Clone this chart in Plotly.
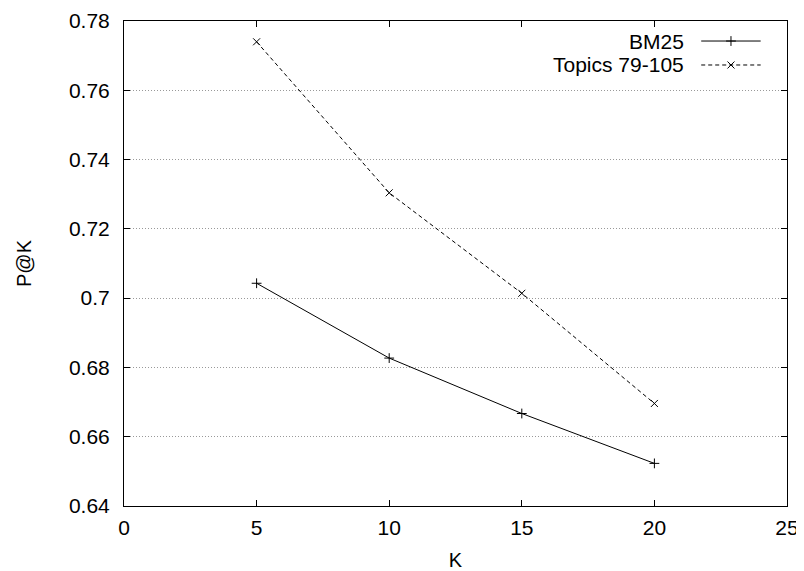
import plotly.graph_objects as go

k_values = [5, 10, 15, 20]
bm25 = [0.7043, 0.6827, 0.6667, 0.6523]
topics = [0.7740, 0.7304, 0.7014, 0.6696]
series_names = ["BM25", "Topics 79-105"]
x_ticks = [0, 5, 10, 15, 20, 25]
y_ticks = [0.64, 0.66, 0.68, 0.70, 0.72, 0.74, 0.76, 0.78]
y_tick_text = ["0.64", "0.66", "0.68", "0.7", "0.72", "0.74", "0.76", "0.78"]

FONT = "Liberation Sans, Arial, sans-serif"
FS = 21

fig = go.Figure()
fig.add_trace(go.Scatter(x=k_values, y=bm25, mode="lines+markers", name=series_names[0],
                         line=dict(color="black", width=1),
                         marker=dict(symbol="cross-thin", size=7, line=dict(color="black", width=1)),
                         showlegend=False))
fig.add_trace(go.Scatter(x=k_values, y=topics, mode="lines+markers", name=series_names[1],
                         line=dict(color="black", width=1, dash="4px,3px"),
                         marker=dict(symbol="x-thin", size=7, line=dict(color="black", width=1)),
                         showlegend=False))

# legend samples on an overlay axis in [0,1]
fig.add_trace(go.Scatter(x=[0.8706, 0.9603], y=[0.9587, 0.9587], mode="lines", xaxis="x2", yaxis="y2",
                         line=dict(color="black", width=1), showlegend=False, hoverinfo="skip"))
fig.add_trace(go.Scatter(x=[0.9155], y=[0.9587], mode="markers", xaxis="x2", yaxis="y2",
                         marker=dict(symbol="cross-thin", size=7, line=dict(color="black", width=1)),
                         showlegend=False, hoverinfo="skip"))
fig.add_trace(go.Scatter(x=[0.8706, 0.9603], y=[0.9093, 0.9093], mode="lines", xaxis="x2", yaxis="y2",
                         line=dict(color="black", width=1, dash="4px,3px"), showlegend=False, hoverinfo="skip"))
fig.add_trace(go.Scatter(x=[0.9155], y=[0.9093], mode="markers", xaxis="x2", yaxis="y2",
                         marker=dict(symbol="x-thin", size=7, line=dict(color="black", width=1)),
                         showlegend=False, hoverinfo="skip"))

fig.add_annotation(x=0.8484, y=0.9587, xref="x2 domain", yref="y2 domain", text=series_names[0],
                   showarrow=False, xanchor="right", yanchor="middle", font=dict(size=FS, color="black", family=FONT))
fig.add_annotation(x=0.8484, y=0.9093, xref="x2 domain", yref="y2 domain", text=series_names[1],
                   showarrow=False, xanchor="right", yanchor="middle", font=dict(size=FS, color="black", family=FONT))

# page body has an 8px default margin, so the figure is sized/offset to land the plot at the right pixels
fig.update_layout(
    width=796, height=563,
    margin=dict(l=116, r=17, t=13, b=65),
    paper_bgcolor="white", plot_bgcolor="white",
    font=dict(family=FONT, size=FS, color="black"),
    xaxis=dict(range=[0, 25], tickvals=x_ticks, ticks="inside", ticklen=6, tickcolor="black",
               showline=True, linecolor="black", linewidth=1, mirror="ticks", showgrid=False,
               zeroline=False, automargin=False,
               title=dict(text="K", standoff=14, font=dict(size=20, family=FONT)),
               tickfont=dict(size=FS), ticklabelstandoff=3),
    yaxis=dict(range=[0.64, 0.78], tickvals=y_ticks, ticktext=y_tick_text, ticks="inside", ticklen=6,
               tickcolor="black", showline=True, linecolor="black", linewidth=1, mirror="ticks",
               showgrid=True, gridcolor="#999999", griddash="1px,2px", gridwidth=1, zeroline=False,
               automargin=False,
               title=dict(text="P@K", standoff=31, font=dict(size=20, family=FONT)),
               tickfont=dict(size=FS), ticklabelstandoff=9),
    xaxis2=dict(range=[0, 1], overlaying="x", visible=False, fixedrange=True),
    yaxis2=dict(range=[0, 1], overlaying="y", visible=False, fixedrange=True),
)

fig.write_html("out.html")
